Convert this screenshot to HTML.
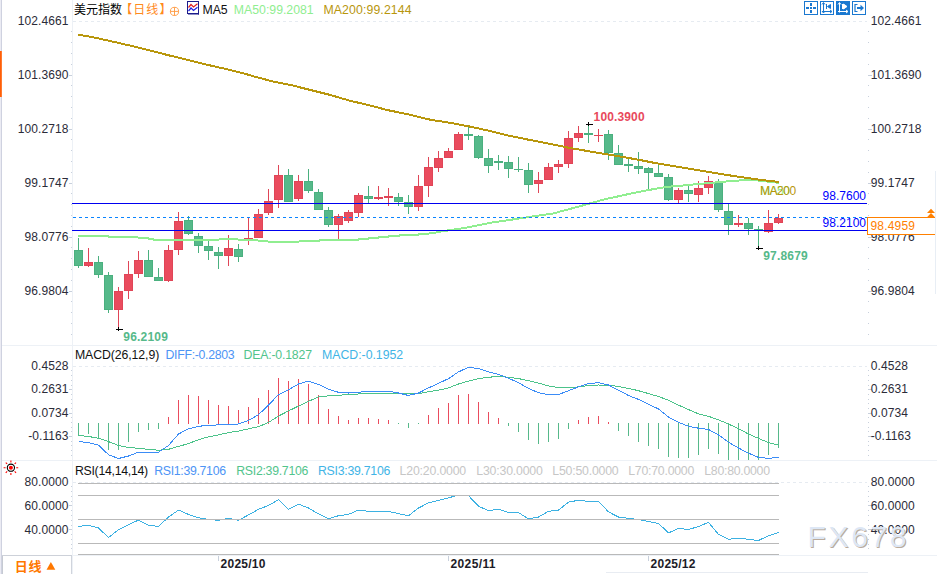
<!DOCTYPE html>
<html><head><meta charset="utf-8"><title>chart</title><style>html,body{margin:0;padding:0;background:#fff;overflow:hidden}body{width:937px;height:574px;position:relative;font-family:"Liberation Sans",sans-serif}</style></head><body>
<svg width="937" height="574" viewBox="0 0 937 574" style="position:absolute;left:0;top:0;font-family:'Liberation Sans',sans-serif">
<rect width="937" height="574" fill="#fff"/>
<rect x="0" y="0" width="1" height="574" fill="#ebebf3"/><rect x="1" y="0" width="1" height="574" fill="#cfd2e0"/>
<rect x="0" y="51" width="1" height="46" fill="#ff5e08"/><rect x="1" y="51" width="1" height="46" fill="#ff7a30"/>
<g shape-rendering="crispEdges" fill="#edf1f6">
<rect x="2" y="345" width="935" height="1"/>
<rect x="2" y="460" width="935" height="1"/>
<rect x="2" y="555" width="935" height="1"/>
<rect x="72" y="0" width="1" height="574"/>
<rect x="935" y="171" width="1" height="123" fill="#e8eef5"/>
<rect x="606" y="572" width="262" height="1" fill="#e8ecf2"/>
<rect x="2" y="555" width="70" height="1" fill="#cdd1d9"/>
<rect x="2" y="556" width="1" height="18" fill="#c6cad2"/>
</g>
<line x1="73" y1="21.5" x2="867" y2="21.5" stroke="#e6ebf1" stroke-width="1" stroke-dasharray="3 3" shape-rendering="crispEdges"/>
<line x1="73" y1="366.5" x2="867" y2="366.5" stroke="#e6ebf1" stroke-width="1" stroke-dasharray="3 3" shape-rendering="crispEdges"/>
<line x1="73" y1="482.5" x2="867" y2="482.5" stroke="#e6ebf1" stroke-width="1" stroke-dasharray="3 3" shape-rendering="crispEdges"/>
<g shape-rendering="crispEdges" fill="#c8d0dc">
<rect x="71" y="31" width="1" height="1"/><rect x="868" y="31" width="1" height="1"/><rect x="71" y="42" width="1" height="1"/><rect x="868" y="42" width="1" height="1"/><rect x="71" y="53" width="1" height="1"/><rect x="868" y="53" width="1" height="1"/><rect x="71" y="64" width="1" height="1"/><rect x="868" y="64" width="1" height="1"/><rect x="69" y="75" width="3" height="1"/><rect x="868" y="75" width="4" height="1"/><rect x="71" y="85" width="1" height="1"/><rect x="868" y="85" width="1" height="1"/><rect x="71" y="96" width="1" height="1"/><rect x="868" y="96" width="1" height="1"/><rect x="71" y="107" width="1" height="1"/><rect x="868" y="107" width="1" height="1"/><rect x="71" y="118" width="1" height="1"/><rect x="868" y="118" width="1" height="1"/><rect x="69" y="129" width="3" height="1"/><rect x="868" y="129" width="4" height="1"/><rect x="71" y="139" width="1" height="1"/><rect x="868" y="139" width="1" height="1"/><rect x="71" y="150" width="1" height="1"/><rect x="868" y="150" width="1" height="1"/><rect x="71" y="161" width="1" height="1"/><rect x="868" y="161" width="1" height="1"/><rect x="71" y="172" width="1" height="1"/><rect x="868" y="172" width="1" height="1"/><rect x="69" y="183" width="3" height="1"/><rect x="868" y="183" width="4" height="1"/><rect x="71" y="193" width="1" height="1"/><rect x="868" y="193" width="1" height="1"/><rect x="71" y="204" width="1" height="1"/><rect x="868" y="204" width="1" height="1"/><rect x="71" y="215" width="1" height="1"/><rect x="868" y="215" width="1" height="1"/><rect x="71" y="226" width="1" height="1"/><rect x="868" y="226" width="1" height="1"/><rect x="69" y="237" width="3" height="1"/><rect x="868" y="237" width="4" height="1"/><rect x="71" y="247" width="1" height="1"/><rect x="868" y="247" width="1" height="1"/><rect x="71" y="258" width="1" height="1"/><rect x="868" y="258" width="1" height="1"/><rect x="71" y="269" width="1" height="1"/><rect x="868" y="269" width="1" height="1"/><rect x="71" y="280" width="1" height="1"/><rect x="868" y="280" width="1" height="1"/><rect x="69" y="291" width="3" height="1"/><rect x="868" y="291" width="4" height="1"/><rect x="71" y="301" width="1" height="1"/><rect x="868" y="301" width="1" height="1"/><rect x="71" y="312" width="1" height="1"/><rect x="868" y="312" width="1" height="1"/><rect x="71" y="323" width="1" height="1"/><rect x="868" y="323" width="1" height="1"/><rect x="71" y="334" width="1" height="1"/><rect x="868" y="334" width="1" height="1"/>
<rect x="71" y="370" width="1" height="1"/><rect x="868" y="370" width="1" height="1"/><rect x="71" y="375" width="1" height="1"/><rect x="868" y="375" width="1" height="1"/><rect x="71" y="380" width="1" height="1"/><rect x="868" y="380" width="1" height="1"/><rect x="71" y="385" width="1" height="1"/><rect x="868" y="385" width="1" height="1"/><rect x="69" y="389" width="3" height="1"/><rect x="868" y="389" width="4" height="1"/><rect x="71" y="394" width="1" height="1"/><rect x="868" y="394" width="1" height="1"/><rect x="71" y="399" width="1" height="1"/><rect x="868" y="399" width="1" height="1"/><rect x="71" y="403" width="1" height="1"/><rect x="868" y="403" width="1" height="1"/><rect x="71" y="408" width="1" height="1"/><rect x="868" y="408" width="1" height="1"/><rect x="69" y="413" width="3" height="1"/><rect x="868" y="413" width="4" height="1"/><rect x="71" y="417" width="1" height="1"/><rect x="868" y="417" width="1" height="1"/><rect x="71" y="422" width="1" height="1"/><rect x="868" y="422" width="1" height="1"/><rect x="71" y="427" width="1" height="1"/><rect x="868" y="427" width="1" height="1"/><rect x="71" y="431" width="1" height="1"/><rect x="868" y="431" width="1" height="1"/><rect x="69" y="436" width="3" height="1"/><rect x="868" y="436" width="4" height="1"/><rect x="71" y="441" width="1" height="1"/><rect x="868" y="441" width="1" height="1"/><rect x="71" y="445" width="1" height="1"/><rect x="868" y="445" width="1" height="1"/><rect x="71" y="450" width="1" height="1"/><rect x="868" y="450" width="1" height="1"/><rect x="71" y="455" width="1" height="1"/><rect x="868" y="455" width="1" height="1"/>
<rect x="71" y="486" width="1" height="1"/><rect x="868" y="486" width="1" height="1"/><rect x="71" y="491" width="1" height="1"/><rect x="868" y="491" width="1" height="1"/><rect x="71" y="496" width="1" height="1"/><rect x="868" y="496" width="1" height="1"/><rect x="71" y="501" width="1" height="1"/><rect x="868" y="501" width="1" height="1"/><rect x="69" y="505" width="3" height="1"/><rect x="868" y="505" width="4" height="1"/><rect x="71" y="510" width="1" height="1"/><rect x="868" y="510" width="1" height="1"/><rect x="71" y="515" width="1" height="1"/><rect x="868" y="515" width="1" height="1"/><rect x="71" y="520" width="1" height="1"/><rect x="868" y="520" width="1" height="1"/><rect x="71" y="525" width="1" height="1"/><rect x="868" y="525" width="1" height="1"/><rect x="69" y="529" width="3" height="1"/><rect x="868" y="529" width="4" height="1"/><rect x="71" y="534" width="1" height="1"/><rect x="868" y="534" width="1" height="1"/><rect x="71" y="539" width="1" height="1"/><rect x="868" y="539" width="1" height="1"/><rect x="71" y="544" width="1" height="1"/><rect x="868" y="544" width="1" height="1"/><rect x="71" y="548" width="1" height="1"/><rect x="868" y="548" width="1" height="1"/>
</g>
<text x="68.6" y="25.3" text-anchor="end" fill="#2b2b38" font-size="12" font-weight="normal" letter-spacing="0.09">102.4661</text>
<text x="870.7" y="25.3" text-anchor="start" fill="#2b2b38" font-size="12" font-weight="normal" letter-spacing="0.09">102.4661</text>
<text x="68.6" y="79.3" text-anchor="end" fill="#2b2b38" font-size="12" font-weight="normal" letter-spacing="0.09">101.3690</text>
<text x="870.7" y="79.3" text-anchor="start" fill="#2b2b38" font-size="12" font-weight="normal" letter-spacing="0.09">101.3690</text>
<text x="68.6" y="133.3" text-anchor="end" fill="#2b2b38" font-size="12" font-weight="normal" letter-spacing="0.09">100.2718</text>
<text x="870.7" y="133.3" text-anchor="start" fill="#2b2b38" font-size="12" font-weight="normal" letter-spacing="0.09">100.2718</text>
<text x="68.6" y="187.3" text-anchor="end" fill="#2b2b38" font-size="12" font-weight="normal" letter-spacing="0.09">99.1747</text>
<text x="870.7" y="187.3" text-anchor="start" fill="#2b2b38" font-size="12" font-weight="normal" letter-spacing="0.09">99.1747</text>
<text x="68.6" y="241.3" text-anchor="end" fill="#2b2b38" font-size="12" font-weight="normal" letter-spacing="0.09">98.0776</text>
<text x="870.7" y="241.3" text-anchor="start" fill="#2b2b38" font-size="12" font-weight="normal" letter-spacing="0.09">98.0776</text>
<text x="68.6" y="295.3" text-anchor="end" fill="#2b2b38" font-size="12" font-weight="normal" letter-spacing="0.09">96.9804</text>
<text x="870.7" y="295.3" text-anchor="start" fill="#2b2b38" font-size="12" font-weight="normal" letter-spacing="0.09">96.9804</text>
<text x="68.6" y="370.0" text-anchor="end" fill="#2b2b38" font-size="12" font-weight="normal" letter-spacing="0.09">0.4528</text>
<text x="870.7" y="370.0" text-anchor="start" fill="#2b2b38" font-size="12" font-weight="normal" letter-spacing="0.09">0.4528</text>
<text x="68.6" y="393.0" text-anchor="end" fill="#2b2b38" font-size="12" font-weight="normal" letter-spacing="0.09">0.2631</text>
<text x="870.7" y="393.0" text-anchor="start" fill="#2b2b38" font-size="12" font-weight="normal" letter-spacing="0.09">0.2631</text>
<text x="68.6" y="417.1" text-anchor="end" fill="#2b2b38" font-size="12" font-weight="normal" letter-spacing="0.09">0.0734</text>
<text x="870.7" y="417.1" text-anchor="start" fill="#2b2b38" font-size="12" font-weight="normal" letter-spacing="0.09">0.0734</text>
<text x="68.6" y="440.0" text-anchor="end" fill="#2b2b38" font-size="12" font-weight="normal" letter-spacing="0.09">-0.1163</text>
<text x="870.7" y="440.0" text-anchor="start" fill="#2b2b38" font-size="12" font-weight="normal" letter-spacing="0.09">-0.1163</text>
<text x="68.6" y="486.3" text-anchor="end" fill="#2b2b38" font-size="12" font-weight="normal" letter-spacing="0.09">80.0000</text>
<text x="870.7" y="486.3" text-anchor="start" fill="#2b2b38" font-size="12" font-weight="normal" letter-spacing="0.09">80.0000</text>
<text x="68.6" y="510.1" text-anchor="end" fill="#2b2b38" font-size="12" font-weight="normal" letter-spacing="0.09">60.0000</text>
<text x="870.7" y="510.1" text-anchor="start" fill="#2b2b38" font-size="12" font-weight="normal" letter-spacing="0.09">60.0000</text>
<text x="68.6" y="534.0" text-anchor="end" fill="#2b2b38" font-size="12" font-weight="normal" letter-spacing="0.09">40.0000</text>
<text x="870.7" y="534.0" text-anchor="start" fill="#2b2b38" font-size="12" font-weight="normal" letter-spacing="0.09">40.0000</text>
<g shape-rendering="crispEdges">
<rect x="78" y="238" width="1" height="30" fill="#4ab07f"/>
<rect x="74" y="250" width="9" height="16" fill="#4ab07f"/>
<rect x="75" y="251" width="7" height="14" fill="#56b98a"/>
<rect x="88" y="248" width="1" height="19" fill="#e04557"/>
<rect x="84" y="262" width="9" height="4" fill="#e04557"/>
<rect x="85" y="263" width="7" height="2" fill="#ea4c5e"/>
<rect x="98" y="256" width="1" height="22" fill="#4ab07f"/>
<rect x="94" y="262" width="9" height="13" fill="#4ab07f"/>
<rect x="95" y="263" width="7" height="11" fill="#56b98a"/>
<rect x="108" y="272" width="1" height="41" fill="#4ab07f"/>
<rect x="104" y="275" width="9" height="35" fill="#4ab07f"/>
<rect x="105" y="276" width="7" height="33" fill="#56b98a"/>
<rect x="118" y="287" width="1" height="42" fill="#e04557"/>
<rect x="114" y="291" width="9" height="19" fill="#e04557"/>
<rect x="115" y="292" width="7" height="17" fill="#ea4c5e"/>
<rect x="128" y="261" width="1" height="38" fill="#e04557"/>
<rect x="124" y="274" width="9" height="17" fill="#e04557"/>
<rect x="125" y="275" width="7" height="15" fill="#ea4c5e"/>
<rect x="138" y="251" width="1" height="27" fill="#e04557"/>
<rect x="134" y="260" width="9" height="14" fill="#e04557"/>
<rect x="135" y="261" width="7" height="12" fill="#ea4c5e"/>
<rect x="148" y="250" width="1" height="27" fill="#4ab07f"/>
<rect x="144" y="260" width="9" height="17" fill="#4ab07f"/>
<rect x="145" y="261" width="7" height="15" fill="#56b98a"/>
<rect x="158" y="268" width="1" height="13" fill="#4ab07f"/>
<rect x="154" y="277" width="9" height="4" fill="#4ab07f"/>
<rect x="155" y="278" width="7" height="2" fill="#56b98a"/>
<rect x="168" y="245" width="1" height="37" fill="#e04557"/>
<rect x="164" y="250" width="9" height="31" fill="#e04557"/>
<rect x="165" y="251" width="7" height="29" fill="#ea4c5e"/>
<rect x="178" y="212" width="1" height="43" fill="#e04557"/>
<rect x="174" y="221" width="9" height="29" fill="#e04557"/>
<rect x="175" y="222" width="7" height="27" fill="#ea4c5e"/>
<rect x="188" y="216" width="1" height="19" fill="#4ab07f"/>
<rect x="184" y="220" width="9" height="14" fill="#4ab07f"/>
<rect x="185" y="221" width="7" height="12" fill="#56b98a"/>
<rect x="198" y="233" width="1" height="20" fill="#4ab07f"/>
<rect x="194" y="236" width="9" height="10" fill="#4ab07f"/>
<rect x="195" y="237" width="7" height="8" fill="#56b98a"/>
<rect x="208" y="241" width="1" height="19" fill="#4ab07f"/>
<rect x="204" y="246" width="9" height="5" fill="#4ab07f"/>
<rect x="205" y="247" width="7" height="3" fill="#56b98a"/>
<rect x="218" y="247" width="1" height="22" fill="#4ab07f"/>
<rect x="214" y="252" width="9" height="4" fill="#4ab07f"/>
<rect x="215" y="253" width="7" height="2" fill="#56b98a"/>
<rect x="228" y="235" width="1" height="31" fill="#e04557"/>
<rect x="224" y="248" width="9" height="8" fill="#e04557"/>
<rect x="225" y="249" width="7" height="6" fill="#ea4c5e"/>
<rect x="238" y="244" width="1" height="18" fill="#4ab07f"/>
<rect x="234" y="249" width="9" height="8" fill="#4ab07f"/>
<rect x="235" y="250" width="7" height="6" fill="#56b98a"/>
<rect x="248" y="218" width="1" height="27" fill="#e04557"/>
<rect x="244" y="238" width="9" height="1" fill="#e04557"/>
<rect x="258" y="209" width="1" height="29" fill="#e04557"/>
<rect x="254" y="214" width="9" height="24" fill="#e04557"/>
<rect x="255" y="215" width="7" height="22" fill="#ea4c5e"/>
<rect x="268" y="189" width="1" height="26" fill="#e04557"/>
<rect x="264" y="201" width="9" height="12" fill="#e04557"/>
<rect x="265" y="202" width="7" height="10" fill="#ea4c5e"/>
<rect x="278" y="165" width="1" height="43" fill="#e04557"/>
<rect x="274" y="175" width="9" height="25" fill="#e04557"/>
<rect x="275" y="176" width="7" height="23" fill="#ea4c5e"/>
<rect x="288" y="169" width="1" height="33" fill="#4ab07f"/>
<rect x="284" y="175" width="9" height="27" fill="#4ab07f"/>
<rect x="285" y="176" width="7" height="25" fill="#56b98a"/>
<rect x="298" y="175" width="1" height="26" fill="#e04557"/>
<rect x="294" y="181" width="9" height="18" fill="#e04557"/>
<rect x="295" y="182" width="7" height="16" fill="#ea4c5e"/>
<rect x="308" y="169" width="1" height="24" fill="#4ab07f"/>
<rect x="304" y="181" width="9" height="10" fill="#4ab07f"/>
<rect x="305" y="182" width="7" height="8" fill="#56b98a"/>
<rect x="318" y="189" width="1" height="21" fill="#4ab07f"/>
<rect x="314" y="192" width="9" height="18" fill="#4ab07f"/>
<rect x="315" y="193" width="7" height="16" fill="#56b98a"/>
<rect x="328" y="207" width="1" height="20" fill="#4ab07f"/>
<rect x="324" y="210" width="9" height="15" fill="#4ab07f"/>
<rect x="325" y="211" width="7" height="13" fill="#56b98a"/>
<rect x="338" y="214" width="1" height="25" fill="#e04557"/>
<rect x="334" y="216" width="9" height="9" fill="#e04557"/>
<rect x="335" y="217" width="7" height="7" fill="#ea4c5e"/>
<rect x="348" y="210" width="1" height="13" fill="#e04557"/>
<rect x="344" y="212" width="9" height="9" fill="#e04557"/>
<rect x="345" y="213" width="7" height="7" fill="#ea4c5e"/>
<rect x="358" y="193" width="1" height="24" fill="#e04557"/>
<rect x="354" y="195" width="9" height="18" fill="#e04557"/>
<rect x="355" y="196" width="7" height="16" fill="#ea4c5e"/>
<rect x="368" y="186" width="1" height="17" fill="#4ab07f"/>
<rect x="364" y="196" width="9" height="3" fill="#4ab07f"/>
<rect x="365" y="197" width="7" height="1" fill="#56b98a"/>
<rect x="378" y="186" width="1" height="14" fill="#e04557"/>
<rect x="374" y="197" width="9" height="2" fill="#e04557"/>
<rect x="388" y="188" width="1" height="18" fill="#e04557"/>
<rect x="384" y="196" width="9" height="2" fill="#e04557"/>
<rect x="398" y="193" width="1" height="13" fill="#4ab07f"/>
<rect x="394" y="197" width="9" height="5" fill="#4ab07f"/>
<rect x="395" y="198" width="7" height="3" fill="#56b98a"/>
<rect x="408" y="195" width="1" height="19" fill="#4ab07f"/>
<rect x="404" y="202" width="9" height="5" fill="#4ab07f"/>
<rect x="405" y="203" width="7" height="3" fill="#56b98a"/>
<rect x="418" y="175" width="1" height="36" fill="#e04557"/>
<rect x="414" y="186" width="9" height="21" fill="#e04557"/>
<rect x="415" y="187" width="7" height="19" fill="#ea4c5e"/>
<rect x="428" y="157" width="1" height="40" fill="#e04557"/>
<rect x="424" y="167" width="9" height="19" fill="#e04557"/>
<rect x="425" y="168" width="7" height="17" fill="#ea4c5e"/>
<rect x="438" y="151" width="1" height="21" fill="#e04557"/>
<rect x="434" y="158" width="9" height="10" fill="#e04557"/>
<rect x="435" y="159" width="7" height="8" fill="#ea4c5e"/>
<rect x="448" y="148" width="1" height="10" fill="#e04557"/>
<rect x="444" y="151" width="9" height="7" fill="#e04557"/>
<rect x="445" y="152" width="7" height="5" fill="#ea4c5e"/>
<rect x="458" y="132" width="1" height="18" fill="#e04557"/>
<rect x="454" y="134" width="9" height="16" fill="#e04557"/>
<rect x="455" y="135" width="7" height="14" fill="#ea4c5e"/>
<rect x="468" y="127" width="1" height="13" fill="#4ab07f"/>
<rect x="464" y="134" width="9" height="2" fill="#4ab07f"/>
<rect x="478" y="135" width="1" height="24" fill="#4ab07f"/>
<rect x="474" y="136" width="9" height="22" fill="#4ab07f"/>
<rect x="475" y="137" width="7" height="20" fill="#56b98a"/>
<rect x="488" y="149" width="1" height="24" fill="#4ab07f"/>
<rect x="484" y="158" width="9" height="8" fill="#4ab07f"/>
<rect x="485" y="159" width="7" height="6" fill="#56b98a"/>
<rect x="498" y="155" width="1" height="15" fill="#4ab07f"/>
<rect x="494" y="161" width="9" height="2" fill="#4ab07f"/>
<rect x="508" y="156" width="1" height="22" fill="#4ab07f"/>
<rect x="504" y="162" width="9" height="7" fill="#4ab07f"/>
<rect x="505" y="163" width="7" height="5" fill="#56b98a"/>
<rect x="518" y="157" width="1" height="15" fill="#4ab07f"/>
<rect x="514" y="169" width="9" height="1" fill="#4ab07f"/>
<rect x="528" y="163" width="1" height="30" fill="#4ab07f"/>
<rect x="524" y="170" width="9" height="15" fill="#4ab07f"/>
<rect x="525" y="171" width="7" height="13" fill="#56b98a"/>
<rect x="538" y="172" width="1" height="21" fill="#e04557"/>
<rect x="534" y="180" width="9" height="4" fill="#e04557"/>
<rect x="535" y="181" width="7" height="2" fill="#ea4c5e"/>
<rect x="548" y="163" width="1" height="17" fill="#e04557"/>
<rect x="544" y="167" width="9" height="13" fill="#e04557"/>
<rect x="545" y="168" width="7" height="11" fill="#ea4c5e"/>
<rect x="558" y="160" width="1" height="13" fill="#e04557"/>
<rect x="554" y="164" width="9" height="3" fill="#e04557"/>
<rect x="555" y="165" width="7" height="1" fill="#ea4c5e"/>
<rect x="568" y="131" width="1" height="37" fill="#e04557"/>
<rect x="564" y="138" width="9" height="26" fill="#e04557"/>
<rect x="565" y="139" width="7" height="24" fill="#ea4c5e"/>
<rect x="578" y="126" width="1" height="16" fill="#e04557"/>
<rect x="574" y="133" width="9" height="5" fill="#e04557"/>
<rect x="575" y="134" width="7" height="3" fill="#ea4c5e"/>
<rect x="588" y="124" width="1" height="19" fill="#4ab07f"/>
<rect x="584" y="133" width="9" height="2" fill="#4ab07f"/>
<rect x="598" y="129" width="1" height="13" fill="#e04557"/>
<rect x="594" y="135" width="9" height="1" fill="#e04557"/>
<rect x="608" y="130" width="1" height="30" fill="#4ab07f"/>
<rect x="604" y="134" width="9" height="19" fill="#4ab07f"/>
<rect x="605" y="135" width="7" height="17" fill="#56b98a"/>
<rect x="618" y="145" width="1" height="20" fill="#4ab07f"/>
<rect x="614" y="153" width="9" height="12" fill="#4ab07f"/>
<rect x="615" y="154" width="7" height="10" fill="#56b98a"/>
<rect x="628" y="159" width="1" height="13" fill="#4ab07f"/>
<rect x="624" y="164" width="9" height="2" fill="#4ab07f"/>
<rect x="638" y="152" width="1" height="22" fill="#4ab07f"/>
<rect x="634" y="166" width="9" height="3" fill="#4ab07f"/>
<rect x="635" y="167" width="7" height="1" fill="#56b98a"/>
<rect x="648" y="167" width="1" height="22" fill="#4ab07f"/>
<rect x="644" y="168" width="9" height="5" fill="#4ab07f"/>
<rect x="645" y="169" width="7" height="3" fill="#56b98a"/>
<rect x="658" y="165" width="1" height="12" fill="#4ab07f"/>
<rect x="654" y="173" width="9" height="4" fill="#4ab07f"/>
<rect x="655" y="174" width="7" height="2" fill="#56b98a"/>
<rect x="668" y="174" width="1" height="27" fill="#4ab07f"/>
<rect x="664" y="177" width="9" height="23" fill="#4ab07f"/>
<rect x="665" y="178" width="7" height="21" fill="#56b98a"/>
<rect x="678" y="188" width="1" height="15" fill="#e04557"/>
<rect x="674" y="190" width="9" height="10" fill="#e04557"/>
<rect x="675" y="191" width="7" height="8" fill="#ea4c5e"/>
<rect x="688" y="186" width="1" height="16" fill="#4ab07f"/>
<rect x="684" y="190" width="9" height="4" fill="#4ab07f"/>
<rect x="685" y="191" width="7" height="2" fill="#56b98a"/>
<rect x="698" y="181" width="1" height="21" fill="#e04557"/>
<rect x="694" y="188" width="9" height="7" fill="#e04557"/>
<rect x="695" y="189" width="7" height="5" fill="#ea4c5e"/>
<rect x="708" y="176" width="1" height="18" fill="#e04557"/>
<rect x="704" y="181" width="9" height="7" fill="#e04557"/>
<rect x="705" y="182" width="7" height="5" fill="#ea4c5e"/>
<rect x="718" y="179" width="1" height="33" fill="#4ab07f"/>
<rect x="714" y="182" width="9" height="28" fill="#4ab07f"/>
<rect x="715" y="183" width="7" height="26" fill="#56b98a"/>
<rect x="728" y="204" width="1" height="31" fill="#4ab07f"/>
<rect x="724" y="211" width="9" height="14" fill="#4ab07f"/>
<rect x="725" y="212" width="7" height="12" fill="#56b98a"/>
<rect x="738" y="215" width="1" height="12" fill="#e04557"/>
<rect x="734" y="223" width="9" height="2" fill="#e04557"/>
<rect x="748" y="218" width="1" height="17" fill="#4ab07f"/>
<rect x="744" y="223" width="9" height="6" fill="#4ab07f"/>
<rect x="745" y="224" width="7" height="4" fill="#56b98a"/>
<rect x="758" y="226" width="1" height="22" fill="#4ab07f"/>
<rect x="754" y="229" width="9" height="1" fill="#4ab07f"/>
<rect x="768" y="210" width="1" height="23" fill="#e04557"/>
<rect x="764" y="223" width="9" height="9" fill="#e04557"/>
<rect x="765" y="224" width="7" height="7" fill="#ea4c5e"/>
<rect x="778" y="214" width="1" height="10" fill="#e04557"/>
<rect x="774" y="218" width="9" height="5" fill="#e04557"/>
<rect x="775" y="219" width="7" height="3" fill="#ea4c5e"/>
</g>
<polyline fill="none" stroke="#90ee90" stroke-width="2" points="78.0,236.0 108.0,236.0 109.0,237.0 137.5,237.0 138.5,238.0 148.0,238.0 149.0,239.0 153.0,239.0 154.0,240.0 218.5,240.0 219.5,239.0 237.5,239.0 238.5,240.0 257.5,240.0 258.5,241.0 267.5,241.0 268.5,242.0 298.5,242.0 299.5,241.0 318.6,241.0 319.6,240.0 358.2,240.0 359.2,239.0 368.0,239.0 369.0,238.0 378.4,238.0 379.4,237.0 388.1,237.0 389.1,236.0 398.6,236.0 399.6,235.0 418.0,235.0 419.0,234.0 428.5,234.0 429.5,233.0 433.0,233.1 441.1,231.5 466.7,227.6 492.3,222.5 517.9,218.7 543.5,214.8 553.0,213.5 578.6,206.6 604.2,199.4 629.8,193.8 655.5,188.7 668.3,186.7 681.1,185.7 706.7,183.2 732.3,181.0 745.1,180.0 757.9,180.5 779.0,182.8" shape-rendering="crispEdges"/>
<polyline fill="none" stroke="#b8960c" stroke-width="2" points="78.0,34.6 92.2,37.1 111.4,41.3 130.6,45.7 149.8,50.4 169.0,55.4 188.3,60.0 207.5,64.8 226.7,69.2 245.9,74.0 253.0,76.2 272.2,81.3 291.4,85.2 310.6,90.0 329.8,94.8 349.0,100.5 368.3,105.0 387.5,110.1 406.7,114.0 425.9,118.8 433.0,120.2 452.2,123.1 471.4,126.9 490.6,131.1 509.8,135.9 529.0,139.8 548.3,143.6 567.5,147.5 586.7,150.9 605.9,154.2 623.0,157.0 640.0,160.0 655.5,163.1 681.1,167.4 706.7,171.6 732.3,175.8 757.9,179.5 779.0,182.0" shape-rendering="crispEdges"/>
<g shape-rendering="crispEdges">
<rect x="72" y="203" width="795" height="1" fill="#0000f0"/>
<rect x="72" y="230" width="795" height="1" fill="#0000f0"/>
<line x1="73" y1="217.5" x2="867" y2="217.5" stroke="#0a84ff" stroke-width="1" stroke-dasharray="3 3"/>
</g>
<g shape-rendering="crispEdges" fill="#000">
<rect x="586" y="124" width="7" height="1"/><rect x="588" y="122" width="1" height="4"/>
<rect x="116" y="329" width="7" height="1"/><rect x="118" y="327" width="1" height="4"/>
<rect x="756" y="248" width="7" height="1"/><rect x="758" y="246" width="1" height="4"/>
</g>
<text x="593.6" y="120.5" text-anchor="start" fill="#e8495c" font-size="12" font-weight="bold" textLength="51" lengthAdjust="spacing">100.3900</text>
<text x="123.3" y="341" text-anchor="start" fill="#56b98a" font-size="12" font-weight="bold" textLength="44.6" lengthAdjust="spacing">96.2109</text>
<text x="763.2" y="260" text-anchor="start" fill="#56b98a" font-size="12" font-weight="bold" textLength="44.6" lengthAdjust="spacing">97.8679</text>
<text x="760.3" y="194.6" text-anchor="start" fill="#90ee90" font-size="12" font-weight="normal" textLength="29.5" lengthAdjust="spacing">MA50</text>
<text x="759.9" y="194.6" text-anchor="start" fill="#b8960c" font-size="12" font-weight="normal" textLength="36.3" lengthAdjust="spacing">MA200</text>
<text x="866" y="199.5" text-anchor="end" fill="#0000ff" font-size="12" font-weight="normal" >98.7600</text>
<text x="866" y="227" text-anchor="end" fill="#0000ff" font-size="12" font-weight="normal" >98.2100</text>
<g shape-rendering="crispEdges">
<rect x="867" y="217" width="68" height="18" fill="#ff8000"/><rect x="868" y="218" width="69" height="16" fill="#fff"/>
<rect x="935" y="218" width="2" height="16" fill="#fff"/>
<rect x="935" y="218" width="1" height="16" fill="#e8eef5"/>
</g>
<text x="870.4" y="230" text-anchor="start" fill="#ff8000" font-size="12" font-weight="normal" textLength="44.6" lengthAdjust="spacing">98.4959</text>
<path d="M927 213 L931 208.7 L935 213 Z M927 217.3 L931 213 L935 217.3 Z" fill="#ff8000"/>
<g shape-rendering="crispEdges">
<rect x="78" y="423" width="1" height="12" fill="#56b98a"/>
<rect x="88" y="423" width="1" height="11" fill="#56b98a"/>
<rect x="98" y="423" width="1" height="15" fill="#56b98a"/>
<rect x="108" y="423" width="1" height="27" fill="#56b98a"/>
<rect x="118" y="423" width="1" height="27" fill="#56b98a"/>
<rect x="128" y="423" width="1" height="19" fill="#56b98a"/>
<rect x="138" y="423" width="1" height="9" fill="#56b98a"/>
<rect x="148" y="423" width="1" height="7" fill="#56b98a"/>
<rect x="158" y="423" width="1" height="6" fill="#56b98a"/>
<rect x="168" y="417" width="1" height="7" fill="#ea4c5e"/>
<rect x="178" y="400" width="1" height="24" fill="#ea4c5e"/>
<rect x="188" y="395" width="1" height="29" fill="#ea4c5e"/>
<rect x="198" y="396" width="1" height="28" fill="#ea4c5e"/>
<rect x="208" y="400" width="1" height="24" fill="#ea4c5e"/>
<rect x="218" y="405" width="1" height="19" fill="#ea4c5e"/>
<rect x="228" y="406" width="1" height="18" fill="#ea4c5e"/>
<rect x="238" y="410" width="1" height="14" fill="#ea4c5e"/>
<rect x="248" y="407" width="1" height="17" fill="#ea4c5e"/>
<rect x="258" y="398" width="1" height="26" fill="#ea4c5e"/>
<rect x="268" y="390" width="1" height="34" fill="#ea4c5e"/>
<rect x="278" y="378" width="1" height="46" fill="#ea4c5e"/>
<rect x="288" y="381" width="1" height="43" fill="#ea4c5e"/>
<rect x="298" y="379" width="1" height="45" fill="#ea4c5e"/>
<rect x="308" y="384" width="1" height="40" fill="#ea4c5e"/>
<rect x="318" y="395" width="1" height="29" fill="#ea4c5e"/>
<rect x="328" y="409" width="1" height="15" fill="#ea4c5e"/>
<rect x="338" y="416" width="1" height="8" fill="#ea4c5e"/>
<rect x="348" y="420" width="1" height="4" fill="#ea4c5e"/>
<rect x="358" y="418" width="1" height="6" fill="#ea4c5e"/>
<rect x="368" y="418" width="1" height="6" fill="#ea4c5e"/>
<rect x="378" y="419" width="1" height="5" fill="#ea4c5e"/>
<rect x="388" y="420" width="1" height="4" fill="#ea4c5e"/>
<rect x="398" y="423" width="1" height="1" fill="#56b98a"/>
<rect x="408" y="423" width="1" height="5" fill="#56b98a"/>
<rect x="418" y="423" width="1" height="1" fill="#56b98a"/>
<rect x="428" y="415" width="1" height="9" fill="#ea4c5e"/>
<rect x="438" y="408" width="1" height="16" fill="#ea4c5e"/>
<rect x="448" y="403" width="1" height="21" fill="#ea4c5e"/>
<rect x="458" y="395" width="1" height="29" fill="#ea4c5e"/>
<rect x="468" y="394" width="1" height="30" fill="#ea4c5e"/>
<rect x="478" y="402" width="1" height="22" fill="#ea4c5e"/>
<rect x="488" y="412" width="1" height="12" fill="#ea4c5e"/>
<rect x="498" y="418" width="1" height="6" fill="#ea4c5e"/>
<rect x="508" y="423" width="1" height="3" fill="#56b98a"/>
<rect x="518" y="423" width="1" height="9" fill="#56b98a"/>
<rect x="528" y="423" width="1" height="17" fill="#56b98a"/>
<rect x="538" y="423" width="1" height="21" fill="#56b98a"/>
<rect x="548" y="423" width="1" height="19" fill="#56b98a"/>
<rect x="558" y="423" width="1" height="16" fill="#56b98a"/>
<rect x="568" y="423" width="1" height="6" fill="#56b98a"/>
<rect x="578" y="420" width="1" height="4" fill="#ea4c5e"/>
<rect x="588" y="417" width="1" height="7" fill="#ea4c5e"/>
<rect x="598" y="416" width="1" height="8" fill="#ea4c5e"/>
<rect x="608" y="422" width="1" height="2" fill="#ea4c5e"/>
<rect x="618" y="423" width="1" height="8" fill="#56b98a"/>
<rect x="628" y="423" width="1" height="13" fill="#56b98a"/>
<rect x="638" y="423" width="1" height="19" fill="#56b98a"/>
<rect x="648" y="423" width="1" height="23" fill="#56b98a"/>
<rect x="658" y="423" width="1" height="26" fill="#56b98a"/>
<rect x="668" y="423" width="1" height="34" fill="#56b98a"/>
<rect x="678" y="423" width="1" height="35" fill="#56b98a"/>
<rect x="688" y="423" width="1" height="35" fill="#56b98a"/>
<rect x="698" y="423" width="1" height="32" fill="#56b98a"/>
<rect x="708" y="423" width="1" height="26" fill="#56b98a"/>
<rect x="718" y="423" width="1" height="31" fill="#56b98a"/>
<rect x="728" y="423" width="1" height="37" fill="#56b98a"/>
<rect x="738" y="423" width="1" height="37" fill="#56b98a"/>
<rect x="748" y="423" width="1" height="37" fill="#56b98a"/>
<rect x="758" y="423" width="1" height="37" fill="#56b98a"/>
<rect x="768" y="423" width="1" height="32" fill="#56b98a"/>
<rect x="778" y="423" width="1" height="25" fill="#56b98a"/>
</g>
<polyline fill="none" stroke="#4cc38a" stroke-width="1" points="78.5,435.5 88.5,436.5 98.5,438.2 108.5,441.6 118.5,445.5 128.5,447.4 138.5,448.4 148.5,449.3 158.5,450.3 168.5,449.3 178.5,446.4 188.5,443.6 198.5,439.7 208.5,436.8 218.5,434.9 228.5,432.6 238.5,431.1 248.5,428.8 258.5,426.7 268.5,422.4 278.5,416.1 288.5,410.9 298.5,406.1 308.5,401.3 318.5,396.9 328.5,395.9 338.5,395.2 348.5,394.6 358.5,394.0 368.5,393.6 378.5,393.4 388.5,393.2 398.5,393.2 408.5,394.0 418.5,393.6 428.5,391.7 438.5,390.2 448.5,387.9 458.5,384.0 468.5,381.1 478.5,378.6 488.5,377.3 498.5,376.3 508.5,377.3 518.5,378.6 528.5,380.7 538.5,383.1 548.5,385.9 558.5,387.5 568.5,387.5 578.5,386.9 588.5,385.5 598.5,385.0 608.5,385.2 618.5,386.5 628.5,388.4 638.5,390.7 648.5,393.6 658.5,396.5 668.5,400.3 678.5,405.1 688.5,409.6 698.5,413.8 708.5,416.3 718.5,419.9 728.5,424.0 738.5,428.8 748.5,434.0 758.5,438.4 768.5,442.6 778.5,445.1" shape-rendering="crispEdges"/>
<polyline fill="none" stroke="#3b8cf6" stroke-width="1" points="78.5,441.6 88.5,442.6 98.5,445.1 108.5,454.7 118.5,458.5 128.5,456.0 138.5,452.2 148.5,452.2 158.5,452.2 168.5,445.5 178.5,434.0 188.5,428.8 198.5,426.3 208.5,425.3 218.5,424.9 228.5,424.4 238.5,424.0 248.5,420.5 258.5,414.7 268.5,405.1 278.5,394.6 288.5,389.8 298.5,384.0 308.5,381.1 318.5,384.4 328.5,389.2 338.5,392.3 348.5,393.0 358.5,392.3 368.5,391.1 378.5,391.1 388.5,391.1 398.5,393.0 408.5,395.5 418.5,393.0 428.5,387.9 438.5,383.4 448.5,378.6 458.5,371.9 468.5,367.3 478.5,368.6 488.5,371.9 498.5,374.4 508.5,378.2 518.5,382.7 528.5,388.4 538.5,392.7 548.5,394.6 558.5,394.6 568.5,390.7 578.5,386.9 588.5,383.6 598.5,382.7 608.5,385.0 618.5,390.2 628.5,395.5 638.5,399.4 648.5,404.2 658.5,409.0 668.5,417.0 678.5,422.4 688.5,426.3 698.5,428.2 708.5,429.5 718.5,434.9 728.5,442.2 738.5,448.0 748.5,453.2 758.5,457.4 768.5,458.4 778.5,457.4" shape-rendering="crispEdges"/>
<polyline fill="none" stroke="#3cb1e2" stroke-width="1" points="78.5,526.5 88.5,525.2 98.5,528.0 108.5,537.5 118.5,529.8 128.5,524.7 138.5,520.1 148.5,525.2 158.5,526.5 168.5,517.0 178.5,510.1 188.5,514.4 198.5,517.8 208.5,519.5 218.5,520.3 228.5,518.3 238.5,520.3 248.5,514.9 258.5,509.3 268.5,505.5 278.5,499.6 288.5,509.3 298.5,504.2 308.5,508.0 318.5,513.9 328.5,518.8 338.5,515.7 348.5,514.4 358.5,510.1 368.5,511.3 378.5,511.3 388.5,511.3 398.5,513.7 408.5,515.7 418.5,508.0 428.5,502.9 438.5,500.3 448.5,497.8 458.5,495.2 468.5,495.7 478.5,506.2 488.5,510.6 498.5,509.3 508.5,512.4 518.5,512.6 528.5,519.0 538.5,517.0 548.5,511.3 558.5,510.1 568.5,502.1 578.5,500.3 588.5,501.4 598.5,501.4 608.5,511.9 618.5,517.0 628.5,518.3 638.5,519.5 648.5,521.6 658.5,523.4 668.5,532.9 678.5,528.5 688.5,529.5 698.5,526.5 708.5,522.4 718.5,534.4 728.5,539.3 738.5,538.2 748.5,539.3 758.5,540.5 768.5,535.7 778.5,532.4" shape-rendering="crispEdges"/>
<g shape-rendering="crispEdges" fill="#b9b9b9">
<rect x="78" y="483" width="701" height="1"/>
<rect x="78" y="495" width="701" height="1"/>
<rect x="78" y="519" width="701" height="1"/>
<rect x="78" y="543" width="701" height="1"/>
<rect x="78" y="554" width="701" height="1"/>
</g>
<text x="202.6" y="13.8" font-size="12.3" fill="#111" textLength="25.0" lengthAdjust="spacing">MA5</text><text x="233.8" y="13.8" font-size="12.3" fill="#90ee90" textLength="79.9" lengthAdjust="spacing">MA50:99.2081</text><text x="323.4" y="13.8" font-size="12.3" fill="#b8960c" textLength="88.2" lengthAdjust="spacing">MA200:99.2144</text>
<text x="74.9" y="358.9" font-size="12.3" fill="#111" textLength="84.4" lengthAdjust="spacing">MACD(26,12,9)</text><text x="165.5" y="358.9" font-size="12.3" fill="#4d94f5" textLength="69.2" lengthAdjust="spacing">DIFF:-0.2803</text><text x="243.5" y="358.9" font-size="12.3" fill="#52c48c" textLength="68.5" lengthAdjust="spacing">DEA:-0.1827</text><text x="322.1" y="358.9" font-size="12.3" fill="#41b4e6" textLength="81.0" lengthAdjust="spacing">MACD:-0.1952</text>
<text x="74.9" y="475.1" font-size="12.3" fill="#111" textLength="73.2" lengthAdjust="spacing">RSI(14,14,14)</text><text x="154.2" y="475.1" font-size="12.3" fill="#4d94f5" textLength="71.8" lengthAdjust="spacing">RSI1:39.7106</text><text x="236.2" y="475.1" font-size="12.3" fill="#52c48c" textLength="72.2" lengthAdjust="spacing">RSI2:39.7106</text><text x="318" y="475.1" font-size="12.3" fill="#41b4e6" textLength="72.3" lengthAdjust="spacing">RSI3:39.7106</text><text x="399.6" y="475.1" font-size="12.3" fill="#c6c6c6" textLength="66.6" lengthAdjust="spacing">L20:20.0000</text><text x="476.3" y="475.1" font-size="12.3" fill="#c6c6c6" textLength="66.5" lengthAdjust="spacing">L30:30.0000</text><text x="552.3" y="475.1" font-size="12.3" fill="#c6c6c6" textLength="66.4" lengthAdjust="spacing">L50:50.0000</text><text x="628.2" y="475.1" font-size="12.3" fill="#c6c6c6" textLength="66.1" lengthAdjust="spacing">L70:70.0000</text><text x="704.3" y="475.1" font-size="12.3" fill="#c6c6c6" textLength="65.7" lengthAdjust="spacing">L80:80.0000</text>
<text x="74.07" y="14.1" font-size="12" fill="#000" textLength="48" lengthAdjust="spacing" style="font-family:'Liberation Sans','Noto Sans CJK SC',sans-serif">美元指数</text>
<text x="120.21" y="14.1" font-size="12" fill="#ff8a1c" textLength="51.2" lengthAdjust="spacing" style="font-family:'Liberation Sans','Noto Sans CJK SC',sans-serif">【日线】</text>
<g fill="none" stroke="#ff963a" stroke-width="0.9"><circle cx="174.5" cy="11.4" r="4.1"/><path d="M170.4 11.4H178.6M174.5 7.3V15.5"/></g>
<g><rect x="187.5" y="1.5" width="11" height="12" fill="#fff" stroke="#1c1c8c" stroke-width="1"/><rect x="198" y="2" width="1" height="12.5" fill="#1c1c8c"/><rect x="188" y="13.5" width="11" height="1" fill="#1c1c8c"/><polyline points="188.5,7.5 191,4.5 193.5,7 197.5,3.8" fill="none" stroke="#e02020" stroke-width="1.2"/><polyline points="188.5,11 191,8 193.5,10.5 197.5,7.3" fill="none" stroke="#2020e0" stroke-width="1.2"/></g>
<g shape-rendering="crispEdges">
<rect x="804.5" y="1.5" width="13" height="13" fill="#fff" stroke="#1a78d0" stroke-width="1"/>
<rect x="820.5" y="1.5" width="13" height="13" fill="#fff" stroke="#1a78d0" stroke-width="1"/>
<rect x="852.5" y="1.5" width="13" height="13" fill="#fff" stroke="#1a78d0" stroke-width="1"/>
<rect x="836" y="1" width="14" height="14" fill="#1a78d0"/>
<g fill="#1a78d0"><rect x="806" y="7" width="3" height="2"/><rect x="813" y="7" width="3" height="2"/><rect x="810" y="3" width="2" height="3"/><rect x="810" y="10" width="2" height="3"/><rect x="810" y="7" width="2" height="2"/></g>
</g>
<g fill="none" stroke="#1a78d0" stroke-width="1"><path d="M823.5 3V12.5M822 4.5L823.5 2.5L825 4.5M822 11L823.5 13L825 11M822 11.5H831.5M830 10L832 11.5L830 13M826.5 4V9"/><path d="M830.5 4.5L827.5 6.5L830.5 8.5Z" fill="#1a78d0"/></g>
<g fill="none" stroke="#fff" stroke-width="1"><path d="M839.5 3V12.5M838 4.5L839.5 2.5L841 4.5M838 11.5H847.5M846 10L848 11.5L846 13M842.5 4V9"/><path d="M843.5 4L847 6.5L843.5 9Z" fill="#fff"/></g>
<g fill="none" stroke="#1a78d0" stroke-width="1.2"><path d="M857.5 4.5H855V11.5H857.5"/><path d="M857 8H862" stroke-width="2"/><path d="M860.5 4.8L864 8L860.5 11.2Z" fill="#1a78d0" stroke="none"/></g>
<g><circle cx="10.9" cy="467.7" r="3.6" fill="#fff" stroke="#000" stroke-width="1.1"/><circle cx="10.9" cy="467.7" r="2" fill="#f00"/><path d="M16.20 467.70L18.20 467.70M14.65 471.45L16.06 472.86M10.90 473.00L10.90 475.00M7.15 471.45L5.74 472.86M5.60 467.70L3.60 467.70M7.15 463.95L5.74 462.54M10.90 462.40L10.90 460.40M14.65 463.95L16.06 462.54" stroke="#f00" stroke-width="1.1" fill="none"/></g>
<g shape-rendering="crispEdges" fill="#c8d0dc"><rect x="218" y="556" width="1" height="5"/><rect x="448" y="556" width="1" height="5"/><rect x="648" y="556" width="1" height="5"/><rect x="71" y="556" width="1" height="18" fill="#d0d4dc"/></g>
<text x="220.5" y="567.7" text-anchor="start" fill="#1c1c28" font-size="12" font-weight="bold" textLength="45" lengthAdjust="spacing">2025/10</text>
<text x="450.5" y="567.7" text-anchor="start" fill="#1c1c28" font-size="12" font-weight="bold" textLength="45" lengthAdjust="spacing">2025/11</text>
<text x="650.5" y="567.7" text-anchor="start" fill="#1c1c28" font-size="12" font-weight="bold" textLength="45" lengthAdjust="spacing">2025/12</text>
<text x="14.8" y="571" font-size="13" font-weight="bold" fill="#ff7800" textLength="26.6" lengthAdjust="spacing" style="font-family:'Liberation Sans','Noto Sans CJK SC',sans-serif">日线</text>
<path d="M46.5 569.8L50.9 562L55.3 569.8Z" fill="#ff7800"/>
<text x="808.6" y="548.3" font-size="30" fill="#b3a292" letter-spacing="2.6" opacity="0.9">FX678</text>
<text x="807.6" y="547.3" font-size="30" fill="#dde7f5" letter-spacing="2.6">FX678</text>
</svg>
</body></html>
